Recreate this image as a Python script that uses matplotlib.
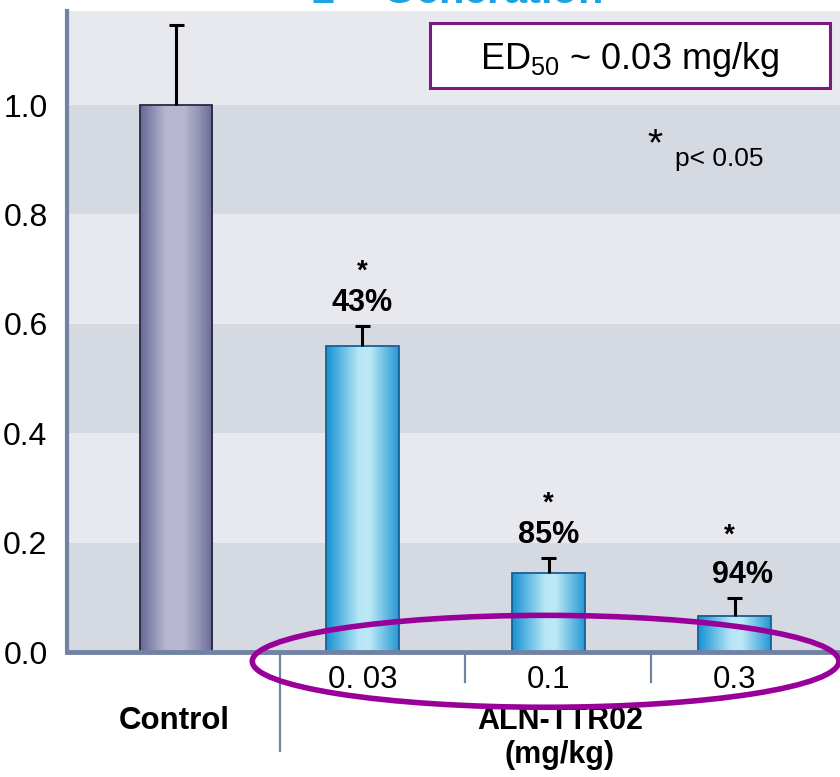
import numpy as np
import matplotlib.pyplot as plt
from matplotlib.patches import Ellipse, Rectangle
from matplotlib.colors import LinearSegmentedColormap
import matplotlib.transforms as mtransforms

plt.rcParams['font.family'] = ['Liberation Sans', 'DejaVu Sans']
plt.rcParams['mathtext.fontset'] = 'custom'
plt.rcParams['mathtext.rm'] = 'Liberation Sans'
plt.rcParams['mathtext.bf'] = 'Liberation Sans:bold'

# data
groups = ["Control", "0. 03", "0.1", "0.3"]
values = [1.0, 0.559, 0.144, 0.066]
err_up = [0.146, 0.037, 0.028, 0.033]
pct_labels = ["", "43%", "85%", "94%"]
significant = [False, True, True, True]
yticks = [0.0, 0.2, 0.4, 0.6, 0.8, 1.0]

light_band = "#e8e9ee"
dark_band = "#d5d9e2"
spine_col = "#7282a2"
purple = "#990099"

fig = plt.figure(figsize=(8.4, 7.77), dpi=100)
ax = fig.add_axes([67 / 840, 1 - 652 / 777, 773 / 840, 641 / 777])
ax.set_facecolor(light_band)

# alternating horizontal bands
for i, lo in enumerate(np.arange(0, 1.2, 0.2)):
    if i % 2 == 0:
        ax.axhspan(lo, lo + 0.2, color=dark_band, zorder=0, lw=0)

# gradient bars
purple_cmap = LinearSegmentedColormap.from_list(
    "pb", [(0, "#66669a"), (0.35, "#b6b6ce"), (0.6, "#b8b8d0"), (0.8, "#9494b6"), (1, "#686898")])
cyan_cmap = LinearSegmentedColormap.from_list(
    "cb", [(0, "#1592d2"), (0.45, "#b6e6f6"), (0.6, "#bde9f7"), (1, "#2398d4")])
grad = np.linspace(0, 1, 256).reshape(1, -1)
width = 0.39
cap = 0.04
for i, (v, e) in enumerate(zip(values, err_up)):
    cmap = purple_cmap if i == 0 else cyan_cmap
    edge = "#2a2a40" if i == 0 else "#1a5e96"
    ax.imshow(grad, cmap=cmap, aspect="auto", zorder=2,
              extent=(i - width / 2, i + width / 2, 0, v))
    ax.add_patch(Rectangle((i - width / 2, 0), width, v, fill=False,
                           edgecolor=edge, lw=1.3, zorder=3))
    # upper error bar only
    ax.vlines(i, v, v + e, color="black", lw=2.2, zorder=3)
    ax.hlines(v + e, i - cap, i + cap, color="black", lw=2.2, zorder=3)

ax.set_xlim(-0.586, 3.565)
ax.set_ylim(0, 1.172)

# percent reduction + significance stars
for i, (lab, sig) in enumerate(zip(pct_labels, significant)):
    if not lab:
        continue
    top = values[i] + err_up[i]
    dx = 0.04 if i == 3 else 0
    ax.text(i + dx, top + 0.042, lab, ha="center", va="center",
            fontsize=22, fontweight="bold", zorder=4)
    if sig:
        star_y = top + (0.113 if i == 3 else 0.1)
        ax.text(i - (0.03 if i == 3 else 0), star_y, "*", ha="center", va="center",
                fontsize=20, fontweight="bold", zorder=4)

# axes styling
ax.set_yticks(yticks)
ax.set_yticklabels([f"{t:.1f}" for t in yticks], fontsize=23)
ax.tick_params(axis="y", length=0, pad=14)
ax.set_xticks([1, 2, 3])
ax.set_xticklabels(groups[1:], fontsize=22.5)
ax.tick_params(axis="x", length=0, pad=9)
for s in ["top", "right"]:
    ax.spines[s].set_visible(False)
ax.spines["left"].set_color(spine_col)
ax.spines["left"].set_linewidth(3)
ax.spines["bottom"].set_color(spine_col)
ax.spines["bottom"].set_linewidth(3.5)
ax.spines["left"].set_zorder(5)
ax.spines["bottom"].set_zorder(5)

# separator ticks below the axis
trans = mtransforms.blended_transform_factory(ax.transData, ax.transAxes)
ax.plot([0.56, 0.56], [0, -0.155], color=spine_col, lw=1.6, transform=trans, clip_on=False)
for xs in [1.55, 2.55]:
    ax.plot([xs, xs], [0, -0.047], color=spine_col, lw=1.6, transform=trans, clip_on=False)

ax.text(-0.01, -0.108, "Control", transform=trans, ha="center", va="center",
        fontsize=22.5, fontweight="bold")
ax.text(2.06, -0.134, "ALN-TTR02\n(mg/kg)", transform=trans, ha="center", va="center",
        fontsize=22, fontweight="bold", linespacing=1.2)

# highlighted dose group
ax.add_patch(Ellipse((1.984, -0.017), 3.15, 0.168, fill=False, edgecolor=purple,
                     lw=4, clip_on=False, zorder=6))

# ED50 box and p-value note
ax.text(0.728, 0.9236, r"ED$_{50}$ ~ 0.03 mg/kg", transform=ax.transAxes,
        ha="center", va="center", fontsize=26, zorder=7)
ax.add_patch(Rectangle((0.4696, 0.88), 0.517, 0.101, transform=ax.transAxes,
                       facecolor="white", edgecolor="#7a1a7a", lw=2.2, zorder=6))
ax.text(0.761, 0.79, "*", transform=ax.transAxes, ha="center", va="center", fontsize=28)
ax.text(0.786, 0.769, "p< 0.05", transform=ax.transAxes, ha="left", va="center", fontsize=19)

# title (cut off at the top of the slide)
fig.text(0.543, 1 - 4 / 777, r"2$^{\mathbf{nd}}$ Generation", ha="center", va="baseline",
         fontsize=30, fontweight="bold", color="#1ba3e0")

fig.savefig("out.png", dpi=100)
